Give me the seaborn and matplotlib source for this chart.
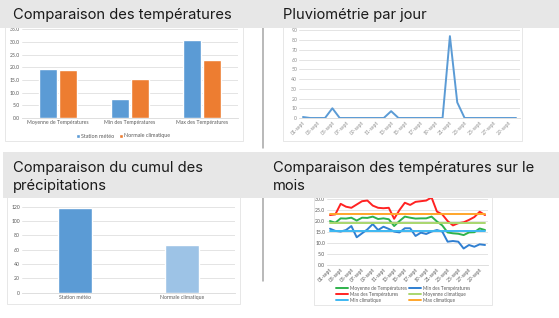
import pandas as pd
import matplotlib
matplotlib.use('Agg')
import matplotlib.pyplot as plt
from matplotlib.patches import Rectangle
from matplotlib.lines import Line2D
import seaborn as sns

# temperature summary (station vs climate normal)
temp_stats = ['Moyenne de Températures', 'Min des Températures', 'Max des Températures']
station_temp = [19.5, 7.5, 30.7]
normal_temp = [19.1, 15.3, 23.0]

# daily rain, september
days = [f'{d:02d}-sept' for d in range(1, 31)]
rain = [1, 0, 0, 0, 10, 0, 0, 0, 0, 0, 0, 0, 7, 0, 0,
        0, 0, 0, 0, 0, 84, 16, 0, 0, 0, 0, 0, 0, 0, 0]

# cumulated rain
rain_sources = ['Station météo', 'Normale climatique']
rain_total = [118, 66.5]

# daily temperatures
t_mean = [20.0, 19.2, 21.2, 21.1, 21.5, 20.2, 21.5, 21.4, 22.0, 20.9,
          21.2, 20.8, 17.7, 20.0, 22.0, 21.5, 21.1, 21.2, 21.2, 22.0,
          19.8, 18.0, 14.8, 14.4, 14.2, 13.6, 14.8, 14.9, 16.6, 15.9]
t_min = [16.5, 15.5, 15.2, 15.9, 17.7, 12.6, 14.4, 16.2, 18.6, 15.9,
         17.4, 16.4, 15.2, 14.8, 16.7, 16.7, 13.2, 14.7, 14.1, 15.2,
         15.9, 15.2, 10.6, 10.9, 10.6, 7.5, 9.1, 8.3, 9.4, 9.1]
t_max = [22.7, 23.0, 27.8, 26.5, 26.0, 27.5, 29.0, 29.3, 27.0, 26.0,
         25.8, 26.0, 21.0, 25.0, 28.3, 27.3, 28.7, 29.0, 29.3, 30.7,
         24.3, 23.0, 20.0, 18.0, 19.0, 19.4, 20.5, 21.8, 24.2, 22.7]
clim_mean = 19.1
clim_min = 15.3
clim_max = 23.0

W, H = 559, 318
sns.set_style('white')
plt.rcParams['font.family'] = ['Lato', 'DejaVu Sans']
fig = plt.figure(figsize=(W / 100, H / 100), dpi=100)

GRID = '#D9D9D9'
TXT = '#595959'
TS = 3.7


def px_axes(x0, y0, x1, y1):
    return fig.add_axes([x0 / W, 1 - y1 / H, (x1 - x0) / W, (y1 - y0) / H])


def frame(x0, y0, x1, y1):
    fig.patches.append(Rectangle((x0 / W, 1 - y1 / H), (x1 - x0) / W, (y1 - y0) / H,
                                 transform=fig.transFigure, facecolor='white',
                                 edgecolor='#E3E3E3', lw=0.6, zorder=-1))


def style(ax, color=TXT):
    ax.set_facecolor('none')
    for s in ['left', 'right', 'top']:
        ax.spines[s].set_visible(False)
    ax.spines['bottom'].set_color(GRID)
    ax.spines['bottom'].set_linewidth(0.6)
    ax.yaxis.grid(True, color=GRID, lw=0.5)
    ax.set_axisbelow(True)
    ax.tick_params(length=0, labelsize=TS, labelcolor=color, pad=1.5)
    ax.set_xlabel('')
    ax.set_ylabel('')


# chart 1 : temperature comparison
frame(5, 24, 243, 141)
ax1 = px_axes(22, 29.4, 238, 118)
df1 = pd.DataFrame({'stat': temp_stats * 2,
                    'value': station_temp + normal_temp,
                    'source': ['Station météo'] * 3 + ['Normale climatique'] * 3})
sns.barplot(data=df1, x='stat', y='value', hue='source', palette=['#5B9BD5', '#ED7D31'],
            saturation=1, width=0.55, gap=0.1, ax=ax1)
ax1.set_ylim(0, 35)
ax1.set_yticks(range(0, 36, 5))
ax1.set_yticklabels([f'{v:.1f}' for v in range(0, 36, 5)])
style(ax1)
ax1.legend(loc='center', bbox_to_anchor=(123 / W, 1 - 136 / H), bbox_transform=fig.transFigure,
           ncol=2, frameon=False, fontsize=3.9, handlelength=0.7, handleheight=0.7,
           handletextpad=0.3, columnspacing=0.8, labelcolor=TXT)

# chart 2 : daily rain
frame(283, 24, 522, 141)
ax2 = px_axes(299.3, 30.3, 519.7, 118)
df2 = pd.DataFrame({'day': range(len(days)), 'rain': rain})
sns.lineplot(data=df2, x='day', y='rain', color='#5B9BD5', lw=1.4, ax=ax2)
ax2.set_xlim(-0.5, len(days) - 0.5)
ax2.set_ylim(0, 90)
ax2.set_yticks(range(0, 91, 10))
ax2.set_xticks(range(0, len(days), 2))
ax2.set_xticklabels(days[::2], rotation=45, ha='right', rotation_mode='anchor')
style(ax2, '#8C8C8C')

# chart 3 : cumulated rain
frame(7, 196, 240, 304)
ax3 = px_axes(22, 206.7, 235, 292.7)
sns.barplot(x=rain_sources, y=rain_total, hue=rain_sources, palette=['#5B9BD5', '#9DC3E6'],
            saturation=1, width=0.32, legend=False, ax=ax3)
ax3.set_ylim(0, 120)
ax3.set_yticks(range(0, 121, 20))
style(ax3)

# chart 4 : temperatures over the month
frame(314, 185, 492, 305)
ax4 = px_axes(327.3, 188, 487.7, 265)
x = list(range(len(days)))
series = [
    ('Moyenne de Températures', t_mean, '#2EB24C'),
    ('Min des Températures', t_min, '#2F7FD1'),
    ('Max des Températures', t_max, '#FF2222'),
    ('Moyenne climatique', [clim_mean] * len(days), '#A9D66E'),
    ('Min climatique', [clim_min] * len(days), '#3DB8F2'),
    ('Max climatique', [clim_max] * len(days), '#FFA62B'),
]
for name, vals, c in series:
    sns.lineplot(x=x, y=vals, color=c, lw=1.4, label=name, ax=ax4)
ax4.set_xlim(-0.5, len(days) - 0.5)
ax4.set_ylim(0, 35)
ax4.set_yticks(range(0, 36, 5))
ax4.set_yticklabels([f'{v:.1f}' for v in range(0, 36, 5)])
ax4.set_xticks(range(0, len(days), 2))
ax4.set_xticklabels(days[::2], rotation=45, ha='right', rotation_mode='anchor')
style(ax4)
h, l = ax4.get_legend_handles_labels()
order = [0, 2, 4, 1, 3, 5]
ax4.legend([h[i] for i in order], [l[i] for i in order], loc='center',
           bbox_to_anchor=(403 / W, 1 - 294.3 / H), bbox_transform=fig.transFigure,
           ncol=2, frameon=False, fontsize=3.4, handlelength=2.6, handletextpad=0.3,
           columnspacing=0.5, labelspacing=0.2, labelcolor=TXT)

# banners and separators
BANNER = '#E7E7E7'
fig.patches.append(Rectangle((0, 1 - 28 / H), 1, 28 / H, transform=fig.transFigure,
                             facecolor=BANNER, edgecolor='none', zorder=10))
fig.patches.append(Rectangle((3 / W, 1 - 198 / H), 1, 46 / H, transform=fig.transFigure,
                             facecolor=BANNER, edgecolor='none', zorder=10))
for y0, y1 in [(28, 148), (198, 281)]:
    fig.add_artist(Line2D([263 / W, 263 / W], [1 - y0 / H, 1 - y1 / H],
                          color='#A6A6A6', lw=1.1, zorder=9))

TF = dict(family=['Inter', 'DejaVu Sans'], fontsize=10.6, color='#1A1A1A', va='center', zorder=11)
fig.text(13 / W, 1 - 15 / H, 'Comparaison des températures', **TF)
fig.text(283 / W, 1 - 15 / H, 'Pluviométrie par jour', **TF)
fig.text(13 / W, 1 - 168 / H, 'Comparaison du cumul des', **TF)
fig.text(13 / W, 1 - 186 / H, 'précipitations', **TF)
fig.text(273 / W, 1 - 168 / H, 'Comparaison des températures sur le', **TF)
fig.text(273 / W, 1 - 186 / H, 'mois', **TF)

fig.savefig('out.png', dpi=100)
